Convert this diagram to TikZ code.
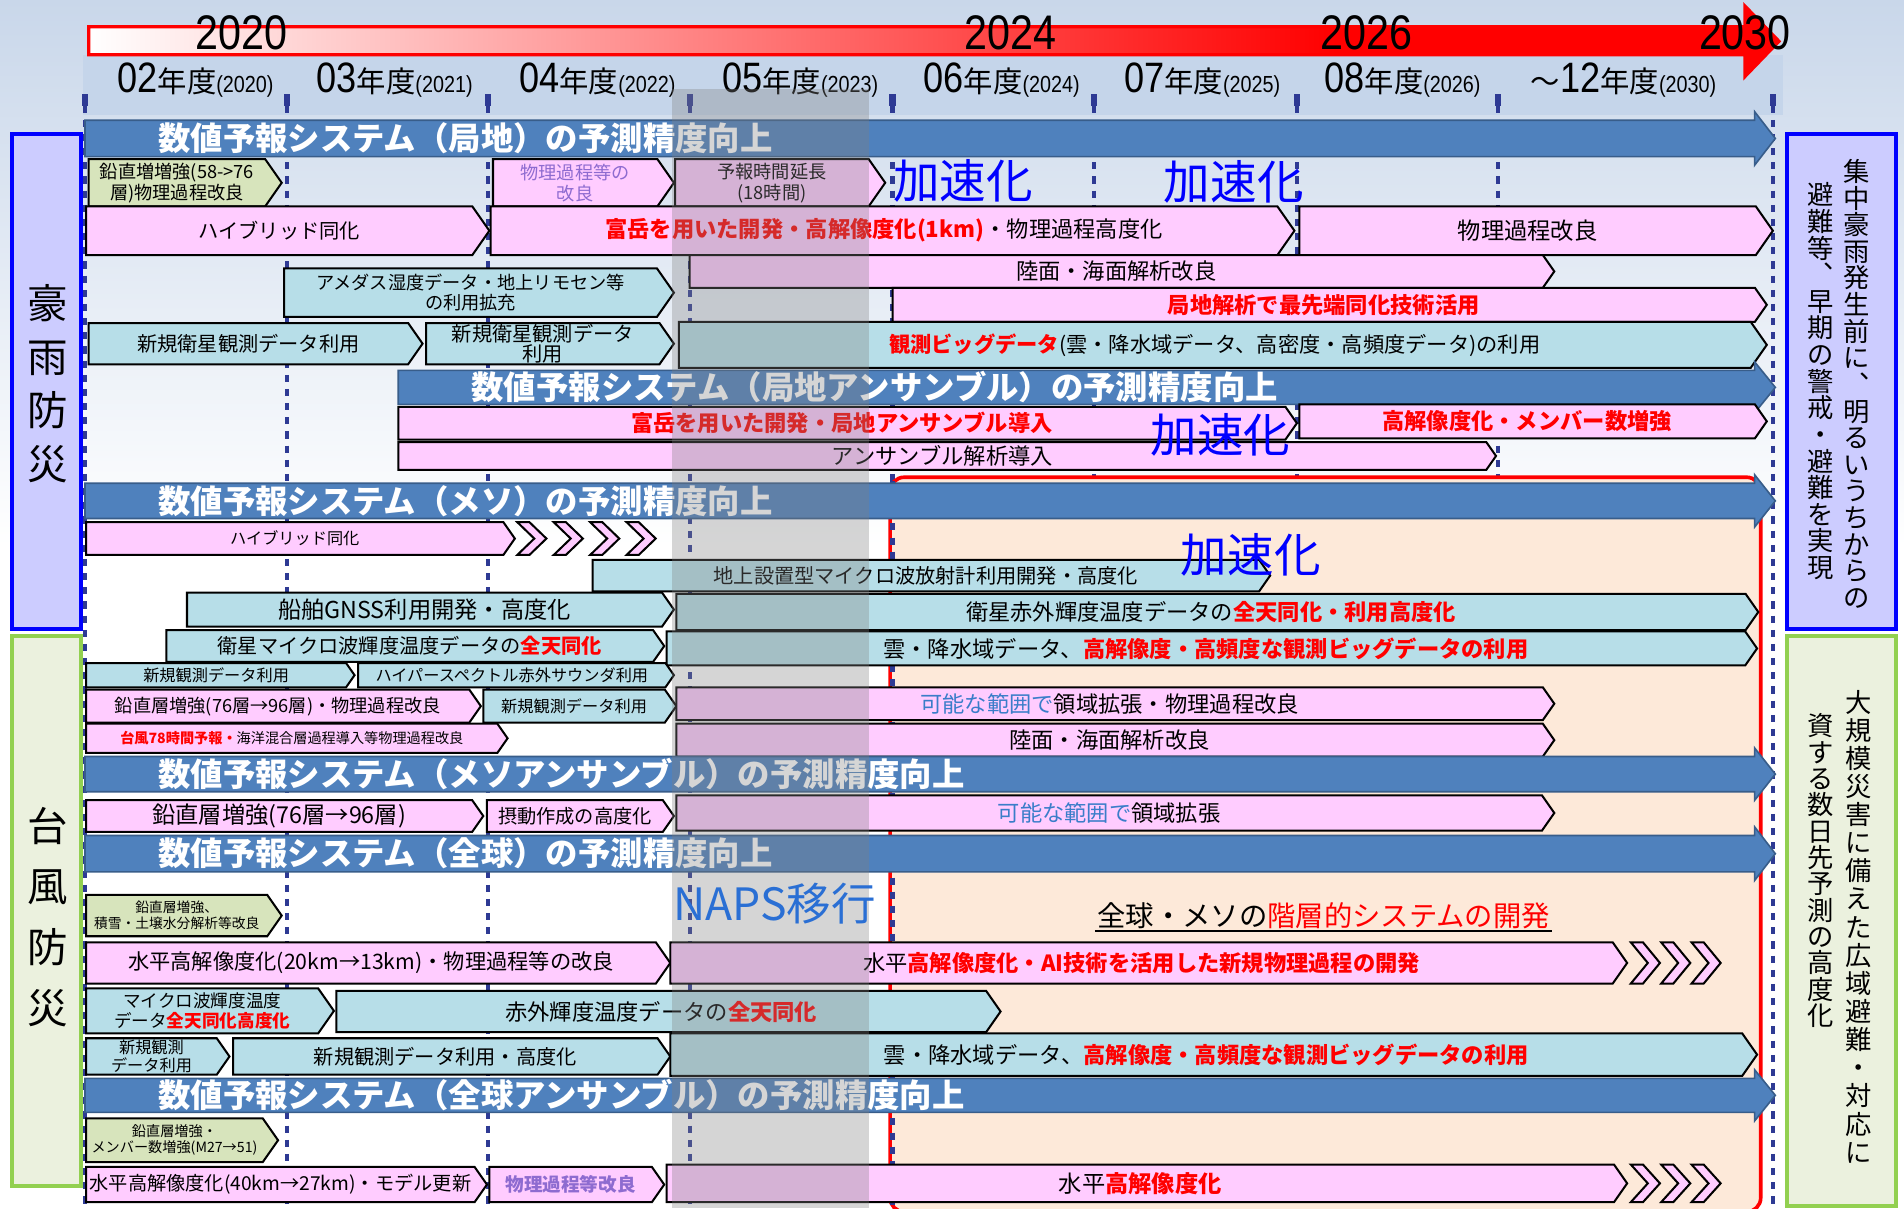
\documentclass[tikz,border=0pt]{standalone}
\usepackage{fontspec}
\setmainfont{Noto Sans CJK JP}
\newfontfamily\yf[FakeStretch=0.85]{Liberation Sans}

\definecolor{pinkf}{HTML}{FFCCFF}
\definecolor{bluef}{HTML}{B7DEE8}
\definecolor{olivef}{HTML}{D7E4BC}
\definecolor{barf}{HTML}{4F81BD}
\definecolor{bard}{HTML}{385D8A}
\definecolor{peach}{HTML}{FDE9D9}
\definecolor{navyd}{HTML}{2E3A94}
\definecolor{lav}{HTML}{CCCCFF}
\definecolor{grn}{HTML}{EBF1DE}
\definecolor{grnb}{HTML}{92D050}
\definecolor{purp}{HTML}{8E6BD0}
\definecolor{bltx}{HTML}{3A7DC9}
\definecolor{napsc}{HTML}{2A6FD4}
\definecolor{hdr}{HTML}{C5D5EA}
\definecolor{bgtop}{HTML}{C9D7EA}

\newcommand\fs[2]{\fontsize{#1}{#2}\selectfont}
\newcommand\rb[1]{{\color{red}\bfseries #1}}

\tikzset{
  pinkbox/.style={fill=pinkf, draw=black, line width=1pt},
  bluebox/.style={fill=bluef, draw=black, line width=1pt},
  olivebox/.style={fill=olivef, draw=black, line width=1pt},
  boxtext/.style={align=center, inner sep=0pt, font=\fs{11}{12}},
  titlebar/.style={fill=barf, draw=bard, line width=0.8pt},
  titletext/.style={anchor=west, inner sep=0pt, text=white, font=\fs{16}{16}\bfseries},
  divline/.style={draw=navyd, line width=2pt, dash pattern=on 3.5pt off 3.5pt},
  accel/.style={text=blue, font=\fs{23}{23}, inner sep=0pt},
  bigyear/.style={font=\yf\fs{24}{24}, inner sep=0pt},
  ylabel/.style={font=\fs{14.5}{15}, inner sep=0pt},
  vtext/.style={align=center, inner sep=0pt},
}

% arrow-shaped box: [node options]{style}{name}{x1}{y1}{x2}{y2}{text}
\newcommand\abox[8][]{%
  \draw[#2] (#4,#5) -- ({#6-0.35*(#7-#5)},#5) -- (#6,{(#5+#7)/2}) -- ({#6-0.35*(#7-#5)},#7) -- (#4,#7) -- cycle;
  \node[boxtext,#1] (#3) at ({(#4+#6-0.35*(#7-#5))/2},{(#5+#7)/2}) {#8};}
% title bar: {name}{x1}{y1}{y2}{textx}{text}
\newcommand\tbar[6]{%
  \draw[titlebar] (#2,#3) -- (1445,#3) -- (1445,{#3-7}) -- (1462,{(#3+#4)/2}) -- (1445,{#4+7}) -- (1445,#4) -- (#2,#4) -- cycle;
  \node[titletext] (#1) at (#5,{(#3+#4)/2}) {#6};}
% chevron: {x}{y1}{y2}
\newcommand\chev[3]{%
  \draw[pinkbox] (#1,#2) -- ({#1+10},#2) -- ({#1+24},{(#2+#3)/2}) -- ({#1+10},#3) -- (#1,#3) -- ({#1+14},{(#2+#3)/2}) -- cycle;}

\begin{document}
\begin{tikzpicture}[x=0.6pt,y=-0.6pt]
\useasboundingbox (0,0) rectangle (1568,995);
% background
\fill[white] (0,0) rectangle (1568,995);
\shade[top color=bgtop, bottom color=white] (0,0) rectangle (1568,450);
% header band
\fill[hdr] (68,45) rectangle (1468,95);
% red time arrow
\shade[left color=white, right color=red] (73,22) rectangle (1100,45);
\fill[red] (1099,22) rectangle (1437,45);
\fill[red] (1437,5) -- (1465,34) -- (1437,63) -- cycle;
\draw[red, line width=1.6pt, line join=miter] (73,22) -- (1437,22) -- (1437,5) -- (1465,34) -- (1437,63) -- (1437,45) -- (73,45) -- cycle;
\node[bigyear] (y2020) at (199,27) {2020};
\node[bigyear] (y2024) at (832,27) {2024};
\node[bigyear] (y2026) at (1125,27) {2026};
\node[bigyear] (y2030) at (1437,27) {2030};
% fiscal year labels
\node[ylabel] (fy02) at (161,66) {{\yf\fs{21}{21}02}年度{\yf\fs{11.5}{12}(2020)}};
\node[ylabel] (fy03) at (325,66) {{\yf\fs{21}{21}03}年度{\yf\fs{11.5}{12}(2021)}};
\node[ylabel] (fy04) at (492,66) {{\yf\fs{21}{21}04}年度{\yf\fs{11.5}{12}(2022)}};
\node[ylabel] (fy05) at (659,66) {{\yf\fs{21}{21}05}年度{\yf\fs{11.5}{12}(2023)}};
\node[ylabel] (fy06) at (825,66) {{\yf\fs{21}{21}06}年度{\yf\fs{11.5}{12}(2024)}};
\node[ylabel] (fy07) at (990,66) {{\yf\fs{21}{21}07}年度{\yf\fs{11.5}{12}(2025)}};
\node[ylabel] (fy08) at (1155,66) {{\yf\fs{21}{21}08}年度{\yf\fs{11.5}{12}(2026)}};
\node[ylabel] (fy12) at (1337,66) {～{\yf\fs{21}{21}12}年度{\yf\fs{11.5}{12}(2030)}};
% dividers
\foreach \xx in {70,236,402,568,735,901,1068,1234,1460} {
  \fill[navyd] ({\xx-2.5},77) rectangle ({\xx+2.5},87);
  \draw[divline] (\xx,87) -- (\xx,992);
}
% peach region
\filldraw[fill=peach, draw=red, line width=1.8pt, rounded corners=7pt] (733,393) rectangle (1450,998);
\draw[divline] (735,396) -- (735,992);

% left and right labels
\filldraw[fill=lav, draw=blue, line width=2pt] (10,110) rectangle (67,518);
\filldraw[fill=grn, draw=grnb, line width=2pt] (10,524) rectangle (67,977);
\node[vtext, font=\fs{20}{26.4}] (lab1) at (39,316) {豪\\雨\\防\\災};
\node[vtext, font=\fs{20}{30}] (lab2) at (39,755) {台\\風\\防\\災};
\filldraw[fill=lav, draw=blue, line width=2pt] (1472,110) rectangle (1561,518);
\filldraw[fill=grn, draw=grnb, line width=2pt] (1472,524) rectangle (1561,993);
\node[vtext, font=\fs{13}{13.15}] (rb1) at (1529,316) {集\\中\\豪\\雨\\発\\生\\前\\に\\︑\\明\\る\\い\\う\\ち\\か\\ら\\の};
\node[vtext, font=\fs{13}{13.15}] (rb2) at (1499,314) {避\\難\\等\\︑\\早\\期\\の\\警\\戒\\・\\避\\難\\を\\実\\現};
\node[vtext, font=\fs{13}{13.9}] (rg1) at (1531,763) {大\\規\\模\\災\\害\\に\\備\\え\\た\\広\\域\\避\\難\\・\\対\\応\\に};
\node[vtext, font=\fs{13}{13}] (rg2) at (1499,717) {資\\す\\る\\数\\日\\先\\予\\測\\の\\高\\度\\化};

% ===== Local =====
\tbar{bar1}{70}{99}{129}{130}{数値予報システム（局地）の予測精度向上}
\abox[font=\fs{9}{10.5}]{olivebox}{a1}{73}{131}{232}{170}{鉛直増増強(58->76\\層)物理過程改良}
\abox[font=\fs{9}{10.5}, text=purp]{pinkbox}{a2}{406}{131}{555}{170}{物理過程等の\\改良}
\abox[font=\fs{9}{10.5}]{pinkbox}{a3}{556}{131}{729}{170}{予報時間延長\\(18時間)}
\abox[font=\fs{10}{11}]{pinkbox}{b1}{71}{170}{403}{210}{ハイブリッド同化}
\abox{pinkbox}{b2}{404}{170}{1066}{210}{\rb{富岳を用いた開発・高解像度化(1km)}・物理過程高度化}
\abox[font=\fs{11.5}{12}]{pinkbox}{b3}{1070}{170}{1460}{210}{物理過程改良}
\abox[font=\fs{11}{12}]{pinkbox}{c1}{568}{210}{1280}{237}{陸面・海面解析改良}
\abox[font=\fs{9}{10}]{bluebox}{c2}{234}{221}{555}{261}{アメダス湿度データ・地上リモセン等\\の利用拡充}
\abox[font=\fs{11}{12}\bfseries, text=red]{pinkbox}{d1}{735}{237}{1455}{265}{局地解析で最先端同化技術活用}
\abox[font=\fs{10}{11}]{bluebox}{e1}{73}{266}{348}{300}{新規衛星観測データ利用}
\abox[font=\fs{10}{10}]{bluebox}{e2}{351}{266}{555}{300}{新規衛星観測データ\\利用}
\abox[font=\fs{10.5}{11}]{bluebox}{e3}{559}{265}{1455}{303}{\rb{観測ビッグデータ}(雲・降水域データ、高密度・高頻度データ)の利用}

% ===== Local ensemble =====
\tbar{bar2}{328}{305}{333}{388}{数値予報システム（局地アンサンブル）の予測精度向上}
\abox[font=\fs{11}{12}\bfseries, text=red]{pinkbox}{g1}{328}{335}{1068}{362}{富岳を用いた開発・局地アンサンブル導入}
\abox[font=\fs{11}{12}\bfseries, text=red]{pinkbox}{g2}{1070}{333}{1455}{361}{高解像度化・メンバー数増強}
\abox[font=\fs{11}{12}]{pinkbox}{h1}{328}{364}{1232}{387}{アンサンブル解析導入}

% ===== Meso =====
\tbar{bar3}{70}{398}{427}{130}{数値予報システム（メソ）の予測精度向上}
\abox[font=\fs{8}{9}]{pinkbox}{i1}{71}{430}{424}{457}{ハイブリッド同化}
\chev{426}{430}{457}\chev{456}{430}{457}\chev{486}{430}{457}\chev{516}{430}{457}
\abox[font=\fs{10}{11}]{bluebox}{j1}{488}{461}{1046}{487}{地上設置型マイクロ波放射計利用開発・高度化}
\abox[font=\fs{11.5}{12}]{bluebox}{k1}{154}{488}{555}{516}{船舶GNSS利用開発・高度化}
\abox[font=\fs{11}{12}]{bluebox}{k2}{557}{489}{1448}{519}{衛星赤外輝度温度データの\rb{全天同化・利用高度化}}
\abox[font=\fs{10}{11}]{bluebox}{l1}{137}{519}{547}{545}{衛星マイクロ波輝度温度データの\rb{全天同化}}
\abox[font=\fs{11}{12}]{bluebox}{l2}{549}{520}{1447}{548}{雲・降水域データ、\rb{高解像度・高頻度な観測ビッグデータの利用}}
\abox[font=\fs{8}{9}]{bluebox}{m1}{71}{546}{292}{566}{新規観測データ利用}
\abox[font=\fs{8}{9}]{bluebox}{m2}{295}{546}{555}{566}{ハイパースペクトル赤外サウンダ利用}
\abox[font=\fs{9}{10}]{pinkbox}{n1}{71}{568}{396}{595}{鉛直層増強(76層→96層)・物理過程改良}
\abox[font=\fs{8}{9}]{bluebox}{n2}{398}{568}{557}{595}{新規観測データ利用}
\abox[font=\fs{11}{12}]{pinkbox}{n3}{557}{566}{1280}{593}{\textcolor{bltx}{可能な範囲で}領域拡張・物理過程改良}
\abox[font=\fs{7}{8}]{pinkbox}{o1}{71}{596}{418}{620}{\rb{台風78時間予報・}海洋混合層過程導入等物理過程改良}
\abox[font=\fs{11}{12}]{pinkbox}{o2}{557}{596}{1280}{623}{陸面・海面解析改良}

% ===== Meso ensemble =====
\tbar{bar4}{70}{623}{652}{130}{数値予報システム（メソアンサンブル）の予測精度向上}
\abox[font=\fs{11.5}{12}]{pinkbox}{p1}{71}{659}{398}{685}{鉛直層増強(76層→96層)}
\abox[font=\fs{9.5}{10}]{pinkbox}{p2}{401}{659}{555}{685}{摂動作成の高度化}
\abox[font=\fs{11}{12}]{pinkbox}{p3}{557}{655}{1280}{684}{\textcolor{bltx}{可能な範囲で}領域拡張}

% ===== Global =====
\tbar{bar5}{70}{688}{718}{130}{数値予報システム（全球）の予測精度向上}
\abox[font=\fs{6.8}{8}]{olivebox}{q1}{71}{737}{232}{771}{鉛直層増強、\\積雪・土壌水分解析等改良}
\abox[font=\fs{10.5}{11}]{pinkbox}{r1}{71}{776}{552}{810}{水平高解像度化(20km→13km)・物理過程等の改良}
\abox[font=\fs{11}{12}]{pinkbox}{r2}{552}{776}{1340}{810}{水平\rb{高解像度化・AI技術を活用した新規物理過程の開発}}
\chev{1343}{776}{810}\chev{1368}{776}{810}\chev{1393}{776}{810}
\abox[font=\fs{8.7}{10}]{bluebox}{s1}{71}{814}{275}{851}{マイクロ波輝度温度\\データ\rb{全天同化高度化}}
\abox[font=\fs{11}{12}]{bluebox}{s2}{277}{816}{824}{850}{赤外輝度温度データの\rb{全天同化}}
\abox[font=\fs{8}{8.5}]{bluebox}{t1}{71}{855}{189}{885}{新規観測\\データ利用}
\abox[font=\fs{10}{11}]{bluebox}{t2}{192}{855}{552}{885}{新規観測データ利用・高度化}
\abox[font=\fs{11}{12}]{bluebox}{t3}{552}{851}{1447}{886}{雲・降水域データ、\rb{高解像度・高頻度な観測ビッグデータの利用}}

% ===== Global ensemble =====
\tbar{bar6}{70}{888}{916}{130}{数値予報システム（全球アンサンブル）の予測精度向上}
\abox[font=\fs{7}{8}]{olivebox}{u1}{71}{921}{229}{957}{鉛直層増強・\\メンバー数増強(M27→51)}
\abox[font=\fs{9.5}{10}]{pinkbox}{v1}{71}{961}{401}{990}{水平高解像度化(40km→27km)・モデル更新}
\abox[font=\fs{9.2}{10}\bfseries, text=purp]{pinkbox}{v2}{403}{961}{547}{990}{物理過程等改良}
\abox[font=\fs{11.5}{12}]{pinkbox}{v3}{549}{959}{1340}{990}{水平\rb{高解像度化}}
\chev{1343}{959}{990}\chev{1368}{959}{990}\chev{1393}{959}{990}

% gray NAPS band overlay
\fill[gray, opacity=0.33] (553,73) rectangle (716,995);

% overlay texts
\node[accel] (acc1) at (793,149) {加速化};
\node[accel] (acc2) at (1016,150) {加速化};
\node[accel] (acc3) at (1005,358) {加速化};
\node[accel] (acc4) at (1030,457) {加速化};
\node[text=napsc, font=\fs{22}{22}, inner sep=0pt] (naps) at (638,744) {NAPS移行};
\node[font=\fs{14}{14}, inner sep=1pt] (hier) at (1090,754) {全球・メソの{\color{red}階層的システムの開発}};
\draw[line width=0.8pt] (hier.south west) -- (hier.south east);
\end{tikzpicture}
\end{document}
